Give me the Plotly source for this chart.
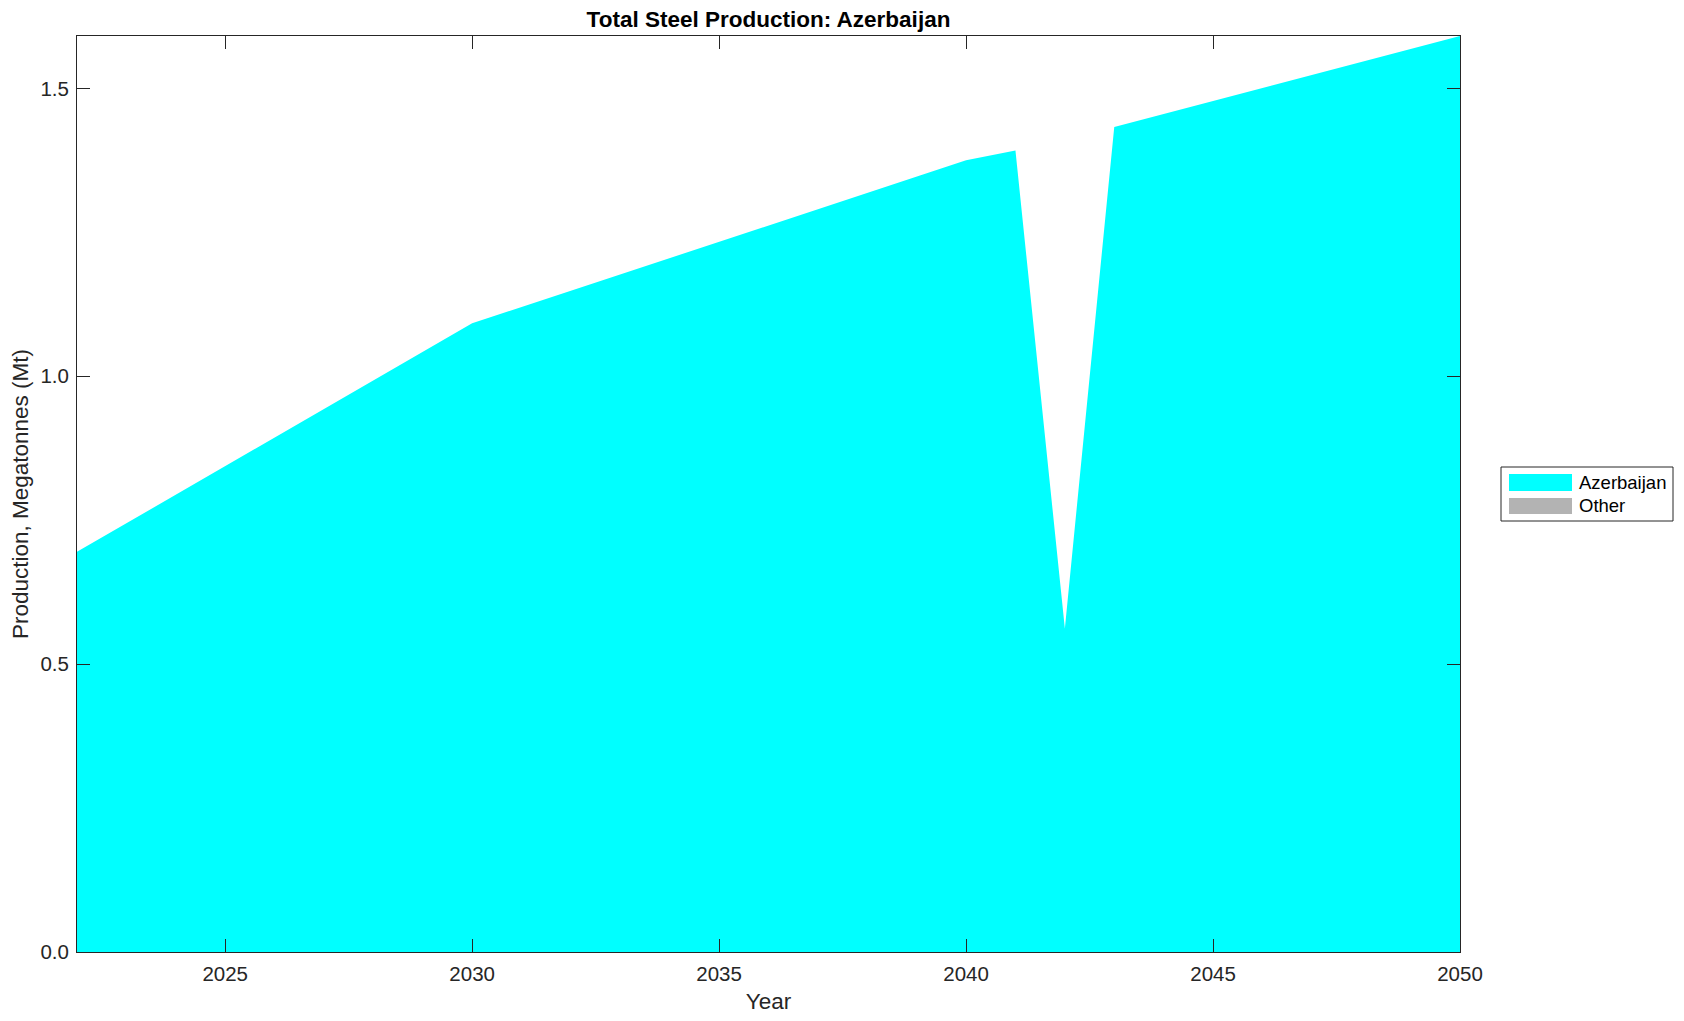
import plotly.graph_objects as go

years = [2022, 2030, 2040, 2041, 2042, 2043, 2050]
azerbaijan = [0.695, 1.092, 1.375, 1.392, 0.562, 1.433, 1.591]
other = [0, 0, 0, 0, 0, 0, 0]
legend_names = ["Azerbaijan", "Other"]
legend_colors = ["#00ffff", "#b3b3b3"]
x_ticks = [2025, 2030, 2035, 2040, 2045, 2050]
y_ticks = [0.0, 0.5, 1.0, 1.5]

W, H = 1684, 1021
L, R, T, B = 77, 1460, 36, 952
FONT = "Liberation Sans, Arial, Helvetica, sans-serif"

fig = go.Figure()
fig.add_trace(go.Scatter(x=years, y=azerbaijan, mode="lines", fill="tozeroy",
                         fillcolor=legend_colors[0], line=dict(width=0, color=legend_colors[0]),
                         stackgroup="one", name=legend_names[0], showlegend=False))
fig.add_trace(go.Scatter(x=years, y=other, mode="lines", fill="tonexty",
                         fillcolor=legend_colors[1], line=dict(width=0, color=legend_colors[1]),
                         stackgroup="one", name=legend_names[1], showlegend=False))

def px_x(p):
    return (p - L) / (R - L)

def px_y(p):
    return (B - p) / (B - T)

shapes = []
annotations = []
# legend box
shapes.append(dict(type="rect", xref="paper", yref="paper",
                   x0=px_x(1501), x1=px_x(1673), y0=px_y(521), y1=px_y(467),
                   line=dict(color="#262626", width=1), fillcolor="white"))
sw_y = [(474, 491), (498, 514)]
for i, name in enumerate(legend_names):
    shapes.append(dict(type="rect", xref="paper", yref="paper",
                       x0=px_x(1509), x1=px_x(1572), y0=px_y(sw_y[i][1]), y1=px_y(sw_y[i][0]),
                       line=dict(width=0), fillcolor=legend_colors[i]))
    annotations.append(dict(xref="paper", yref="paper", x=px_x(1577), y=px_y((sw_y[i][0] + sw_y[i][1]) / 2),
                            text=name, showarrow=False, xanchor="left", yanchor="middle",
                            font=dict(family=FONT, size=18.5, color="black")))

axis_common = dict(showline=True, linecolor="#262626", linewidth=1, mirror="ticks",
                   ticks="inside", ticklen=13, tickcolor="#262626", showgrid=False,
                   zeroline=False, ticklabelstandoff=3,
                   tickfont=dict(family=FONT, size=20.5, color="#262626"))

fig.update_layout(
    width=W, height=H,
    margin=dict(l=L, r=W - R, t=T, b=H - B),
    paper_bgcolor="white", plot_bgcolor="white",
    title=dict(text="<b>Total Steel Production: Azerbaijan</b>", x=(L + R) / 2 / W, xanchor="center",
               y=1 - 19 / H, yanchor="middle", font=dict(family=FONT, size=22.5, color="black")),
    xaxis=dict(range=[2022, 2050], tickvals=x_ticks, ticktext=[str(v) for v in x_ticks],
               title=dict(text="Year", font=dict(family=FONT, size=22.5, color="#262626"), standoff=9),
               **axis_common),
    yaxis=dict(range=[0, 1.591], tickvals=y_ticks, ticktext=[f"{v:.1f}" for v in y_ticks],
               title=dict(text="Production, Megatonnes (Mt)", font=dict(family=FONT, size=22.5, color="#262626"),
                          standoff=5),
               **axis_common),
    shapes=shapes, annotations=annotations, showlegend=False,
)

fig.write_html("out.html", config={"displayModeBar": False},
               post_script="document.body.style.margin='0';document.body.style.overflow='hidden';")
